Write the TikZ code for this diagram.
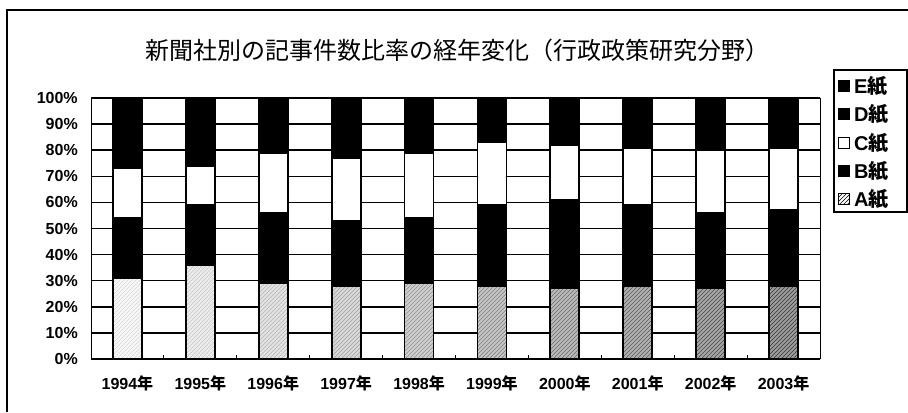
\documentclass[tikz,border=0pt]{standalone}
\usepackage{fontspec}
\setmainfont{Liberation Sans}
\newfontfamily\jp{Noto Sans CJK JP}
\usetikzlibrary{patterns, positioning}

\begin{document}
\begin{tikzpicture}[
            x=0.75pt, y=0.75pt,
            gridline/.style={
                black,
                line width=1.1pt
  },
  seg/.style={
    draw=black,
    line width=1.4pt
  },
  ticklbl/.style={
    font=\fontsize{12}{12}\selectfont\bfseries,
    anchor=east,
    inner sep=0pt
  },
  yearlbl/.style={
    font=\fontsize{12}{12}\selectfont\bfseries,
    inner sep=0pt
  },
  keybox/.style={
    draw,
    line width=0.9pt,
    minimum size=8pt,
    inner sep=0pt
  },
  keytext/.style={
    font=\fontsize{15}{15}\selectfont\bfseries,
    inner sep=0pt
  }
]

\useasboundingbox (-91,-53) rectangle (817,359);

% Frame (cut off at right and bottom)
\draw [line width=1pt] (-84,-53) -- (-84,349) -- (817,349);

% Title
\node [font=\jp\fontsize{18}{18}\selectfont] (title) at (367,309)
  {新聞社別の記事件数比率の経年変化（行政政策研究分野）};

% Grid and plot area
\foreach \k in {1,...,10}
  \draw [gridline] (0,{26.1*\k}) -- (729,{26.1*\k});
\draw [line width=0.6pt] (0,0) -- (0,261);
\draw [line width=0.6pt] (729,0) -- (729,261);

% Y labels
\foreach \k in {0,...,10}
  \node [ticklbl] (p\k) at (-13,{26.1*\k}) {\the\numexpr\k*10\relax\%};

% Bars: year / A top / B top / C top
\foreach \yr/\a/\b/\c [count=\i from 0] in {
    1994/31/54/73, 1995/36/59/74, 1996/29/56/79, 1997/28/53/77,
    1998/29/54/79, 1999/28/59/83, 2000/27/61/82, 2001/28/59/81,
    2002/27/56/80, 2003/28/57/81} {
  \pgfmathsetmacro\xc{72.9*(\i+0.5)}
  \pgfmathsetmacro\sh{3+4*\i}
  \pgfmathsetmacro\pc{15+7*\i}
  % A
  \fill [black!\sh] ({\xc-14.5},0) rectangle ({\xc+14.5},{2.61*\a});
  \fill [pattern=north east lines, pattern color=black!\pc]
    ({\xc-14.5},0) rectangle ({\xc+14.5},{2.61*\a});
  \draw [seg] ({\xc-14.5},0) rectangle ({\xc+14.5},{2.61*\a});
  % B
  \filldraw [seg, fill=black] ({\xc-14.5},{2.61*\a}) rectangle ({\xc+14.5},{2.61*\b});
  % C
  \filldraw [seg, fill=white] ({\xc-14.5},{2.61*\b}) rectangle ({\xc+14.5},{2.61*\c});
  % D and E
  \filldraw [seg, fill=black] ({\xc-14.5},{2.61*\c}) rectangle ({\xc+14.5},261);
  % Year label
  \node [yearlbl] (y\yr) at (\xc,-24) {\yr{\jp 年}};
}

% Category axis
\draw [line width=1.5pt] (0,0) -- (729,0);
\foreach \k in {1,...,9}
  \draw [line width=0.8pt] ({72.9*\k},0) -- ({72.9*\k},4);

% Legend
\draw [line width=1pt, fill=white] (743,147) rectangle (816,289);
\node [keybox, fill=black] (kE) at (753,273) {};
\node [keybox, fill=black] (kD) at (753,245) {};
\node [keybox, fill=white] (kC) at (753,216) {};
\node [keybox, fill=black] (kB) at (753,188) {};
\node [keybox, fill=black!30, pattern=north east lines] (kA) at (753,160) {};
\node [keybox] at (kA) {};

\node [keytext, right=3pt of kE] (tE) {E{\jp 紙}};
\node [keytext, right=3pt of kD] (tD) {D{\jp 紙}};
\node [keytext, right=3pt of kC] (tC) {C{\jp 紙}};
\node [keytext, right=3pt of kB] (tB) {B{\jp 紙}};
\node [keytext, right=3pt of kA] (tA) {A{\jp 紙}};

\end{tikzpicture}
\end{document}
